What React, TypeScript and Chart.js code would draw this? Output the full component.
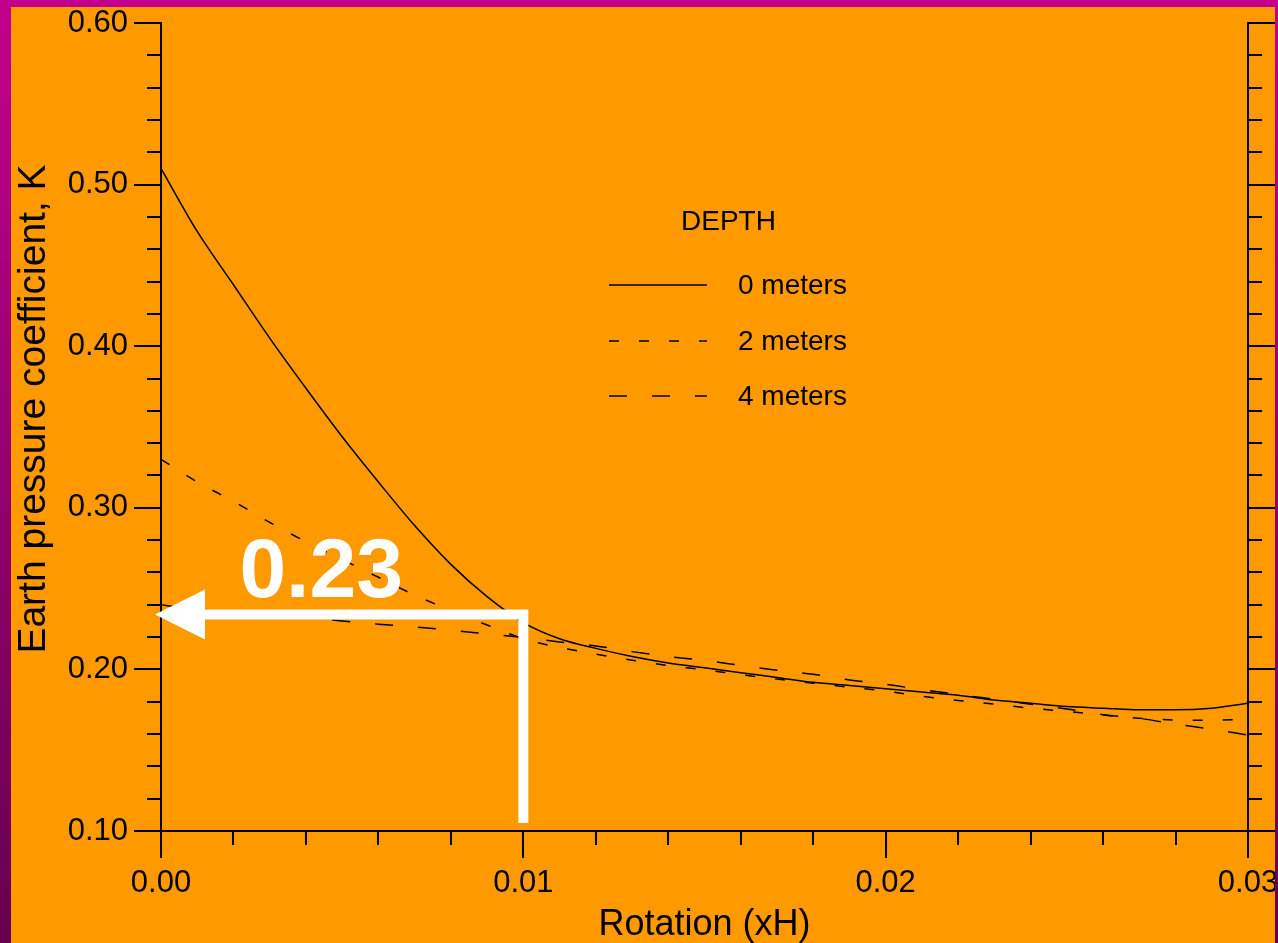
import React, { useEffect, useRef } from 'react';
import { Chart, registerables } from 'chart.js';

Chart.register(...registerables);

// ---------- data ----------
const rotation = [
  0, 0.001, 0.002, 0.003, 0.004, 0.005, 0.006, 0.007, 0.008, 0.009,
  0.010, 0.011, 0.012, 0.013, 0.014, 0.015, 0.016, 0.017, 0.018, 0.019,
  0.020, 0.021, 0.022, 0.023, 0.024, 0.025, 0.026, 0.027, 0.028, 0.029, 0.030,
];
const depth0m = [
  0.510, 0.471, 0.438, 0.405, 0.374, 0.344, 0.316, 0.289, 0.265, 0.245,
  0.229, 0.219, 0.213, 0.208, 0.204, 0.201, 0.198, 0.195, 0.192, 0.190,
  0.188, 0.186, 0.184, 0.181, 0.179, 0.177, 0.176, 0.175, 0.175, 0.176, 0.179,
];
const depth2m = [
  0.330, 0.316, 0.304, 0.291, 0.279, 0.268, 0.257, 0.246, 0.2365, 0.2275,
  0.219, 0.2135, 0.2095, 0.2057, 0.2024, 0.1997, 0.1968, 0.194, 0.1915, 0.189,
  0.1866, 0.1834, 0.1808, 0.1786, 0.176, 0.174, 0.1718, 0.1697, 0.1687, 0.1685, 0.1693,
];
const depth4m = [
  0.240, 0.237, 0.235, 0.2335, 0.232, 0.230, 0.228, 0.2263, 0.2242, 0.222,
  0.2198, 0.217, 0.2145, 0.211, 0.208, 0.2055, 0.2025, 0.1995, 0.197, 0.1935,
  0.1908, 0.1875, 0.1845, 0.1815, 0.1785, 0.1755, 0.172, 0.1697, 0.1662, 0.163, 0.1594,
];
const seriesLabels = ['0 meters', '2 meters', '4 meters'];
const legendTitle = 'DEPTH';

const xTickValues = [0, 0.01, 0.02, 0.03];
const xTickLabels = ['0.00', '0.01', '0.02', '0.03'];
const yTickValues = [0.1, 0.2, 0.3, 0.4, 0.5, 0.6];
const yTickLabels = ['0.10', '0.20', '0.30', '0.40', '0.50', '0.60'];

const xTitle = 'Rotation (xH)';
const yTitle = 'Earth pressure coefficient, K';

// annotation (data coordinates)
const annotationText = '0.23';
const annotationValue = 0.234;
const annotationX = 0.01;
const annotationBottom = 0.105;
const annotationLabelX = 0.00442;
const annotationLabelY = 0.245;

// ---------- styles ----------
const FONT = "'Liberation Sans', Arial, sans-serif";
const ORANGE = '#FF9900';
const FRAME_TOP = '#C2008C';
const FRAME_BOTTOM = '#660050';

const decorPlugin = {
  id: 'decor',
  beforeDraw(chart: any) {
    const { ctx, width, height } = chart;
    ctx.save();
    ctx.fillStyle = ORANGE;
    ctx.fillRect(0, 0, width, height);
    ctx.restore();
  },
  afterDraw(chart: any) {
    const { ctx, width, height } = chart;
    const xs = chart.scales.x;
    const ys = chart.scales.y;
    const area = chart.chartArea;
    ctx.save();

    // minor ticks
    ctx.strokeStyle = '#000';
    ctx.lineWidth = 2;
    ctx.beginPath();
    for (let k = 1; k < 25; k++) {
      if (k % 5 === 0) continue;
      const py = Math.round(ys.getPixelForValue(0.1 + k * 0.02));
      ctx.moveTo(area.left - 14, py);
      ctx.lineTo(area.left, py);
      ctx.moveTo(area.right, py);
      ctx.lineTo(area.right + 14, py);
    }
    for (let k = 1; k < 15; k++) {
      if (k % 5 === 0) continue;
      const px = Math.round(xs.getPixelForValue(k * 0.002));
      ctx.moveTo(px, area.bottom);
      ctx.lineTo(px, area.bottom + 14);
    }
    ctx.stroke();

    // axis titles
    ctx.fillStyle = '#000';
    ctx.font = `36px ${FONT}`;
    ctx.textAlign = 'center';
    ctx.textBaseline = 'alphabetic';
    ctx.fillText(xTitle, (area.left + area.right) / 2, 935);
    ctx.save();
    ctx.translate(45, 409);
    ctx.rotate(-Math.PI / 2);
    ctx.font = `39px ${FONT}`;
    ctx.fillText(yTitle, 0, 0);
    ctx.restore();

    // legend
    ctx.font = `28px ${FONT}`;
    ctx.textAlign = 'center';
    ctx.textBaseline = 'middle';
    ctx.fillText(legendTitle, 728.5, 222);
    const rows = [285, 341, 396];
    chart.data.datasets.forEach((ds: any, i: number) => {
      ctx.save();
      ctx.lineWidth = 1.5;
      ctx.strokeStyle = '#000';
      ctx.setLineDash(ds.borderDash || []);
      ctx.beginPath();
      ctx.moveTo(609, rows[i]);
      ctx.lineTo(707, rows[i]);
      ctx.stroke();
      ctx.restore();
      ctx.textAlign = 'left';
      ctx.fillText(ds.label, 738, rows[i] + 1);
    });

    // annotation arrow
    const ax = xs.getPixelForValue(annotationX);
    const ay = ys.getPixelForValue(annotationValue);
    const ab = ys.getPixelForValue(annotationBottom);
    const tip = xs.getPixelForValue(0) - 6;
    ctx.strokeStyle = '#fff';
    ctx.fillStyle = '#fff';
    ctx.lineWidth = 10;
    ctx.lineJoin = 'miter';
    ctx.beginPath();
    ctx.moveTo(ax, ab);
    ctx.lineTo(ax, ay);
    ctx.lineTo(tip + 48, ay);
    ctx.stroke();
    ctx.beginPath();
    ctx.moveTo(tip, ay);
    ctx.lineTo(tip + 50, ay - 25);
    ctx.lineTo(tip + 50, ay + 25);
    ctx.closePath();
    ctx.fill();
    ctx.font = `bold 84px ${FONT}`;
    ctx.textAlign = 'center';
    ctx.textBaseline = 'alphabetic';
    ctx.fillText(annotationText, xs.getPixelForValue(annotationLabelX), ys.getPixelForValue(annotationLabelY));

    // frame
    const g = ctx.createLinearGradient(0, 0, 0, height);
    g.addColorStop(0, FRAME_TOP);
    g.addColorStop(1, FRAME_BOTTOM);
    ctx.fillStyle = g;
    ctx.fillRect(0, 0, 11, height);
    ctx.fillRect(0, 0, width, 7);
    ctx.fillRect(width - 3, 0, 3, height);
    ctx.restore();
  },
};

export default function App() {
  const ref = useRef<HTMLCanvasElement>(null);
  useEffect(() => {
    document.body.style.margin = '0';
    const mk = (vals: number[]) => rotation.map((x, i) => ({ x, y: vals[i] }));
    const common = {
      borderColor: '#000',
      borderWidth: 1.5,
      pointRadius: 0,
      fill: false,
      cubicInterpolationMode: 'monotone' as const,
    };
    const zeroPad = (s: any) => {
      s.paddingLeft = 0;
      s.paddingRight = 0;
      s.paddingTop = 0;
      s.paddingBottom = 0;
    };
    const chart = new Chart(ref.current as HTMLCanvasElement, {
      type: 'line',
      data: {
        datasets: [
          { ...common, label: seriesLabels[0], data: mk(depth0m), borderDash: [] },
          { ...common, label: seriesLabels[1], data: mk(depth2m), borderDash: [10, 20] },
          { ...common, label: seriesLabels[2], data: mk(depth4m), borderDash: [18, 25] },
        ],
      },
      options: {
        responsive: false,
        animation: false,
        devicePixelRatio: 1,
        layout: { padding: { left: 0, top: 23, right: 0, bottom: 0 } },
        plugins: { legend: { display: false }, tooltip: { enabled: false } },
        font: { family: FONT },
        scales: {
          x: {
            type: 'linear',
            position: 'bottom',
            min: 0,
            max: 0.03,
            afterBuildTicks: (s: any) => { s.ticks = xTickValues.map((v) => ({ value: v })); },
            afterFit: (s: any) => { s.height = 112; zeroPad(s); },
            ticks: {
              color: '#000',
              font: { family: FONT, size: 31 },
              padding: 7,
              maxRotation: 0,
              autoSkip: false,
              callback: (_v: any, i: number) => xTickLabels[i],
            },
            grid: { drawOnChartArea: false, drawTicks: true, tickLength: 27, color: '#000', lineWidth: 2 },
            border: { display: true, color: '#000', width: 2 },
          },
          y: {
            type: 'linear',
            position: 'left',
            min: 0.1,
            max: 0.6,
            afterBuildTicks: (s: any) => { s.ticks = yTickValues.map((v) => ({ value: v })); },
            afterFit: (s: any) => { s.width = 161; zeroPad(s); },
            ticks: {
              color: '#000',
              font: { family: FONT, size: 31 },
              padding: 6,
              autoSkip: false,
              callback: (_v: any, i: number) => yTickLabels[i],
            },
            grid: { drawOnChartArea: false, drawTicks: true, tickLength: 27, color: '#000', lineWidth: 2 },
            border: { display: true, color: '#000', width: 2 },
          },
          y2: {
            type: 'linear',
            position: 'right',
            min: 0.1,
            max: 0.6,
            afterBuildTicks: (s: any) => { s.ticks = yTickValues.map((v) => ({ value: v })); },
            afterFit: (s: any) => { s.width = 30; zeroPad(s); },
            ticks: { display: false },
            grid: { drawOnChartArea: false, drawTicks: true, tickLength: 27, color: '#000', lineWidth: 2 },
            border: { display: true, color: '#000', width: 2 },
          },
        },
      } as any,
      plugins: [decorPlugin],
    });
    return () => chart.destroy();
  }, []);
  return (
    <div style={{ position: 'absolute', left: 0, top: 0, width: 1278, height: 943 }}>
      <canvas ref={ref} width={1278} height={943} style={{ display: 'block' }} />
    </div>
  );
}
